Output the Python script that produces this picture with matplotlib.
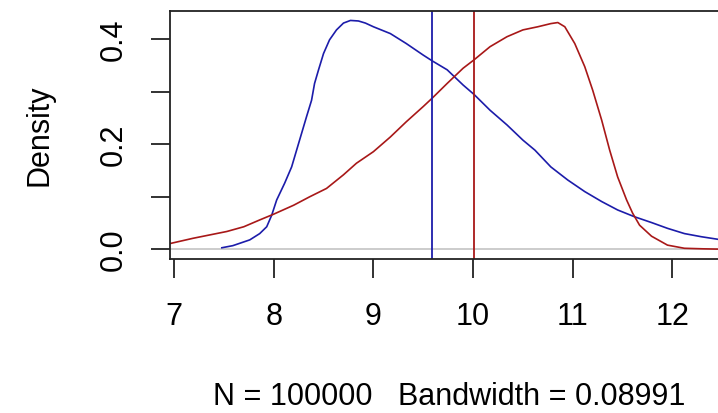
import matplotlib
matplotlib.use("Agg")
import matplotlib.pyplot as plt

plt.rcParams['font.family'] = ['Liberation Sans', 'DejaVu Sans']

# density curves
blue_x = [7.48, 7.59, 7.76, 7.86, 7.93, 7.98, 8.03, 8.11, 8.18, 8.23, 8.28, 8.33,
          8.38, 8.41, 8.45, 8.50, 8.56, 8.63, 8.70, 8.77, 8.85, 8.92, 9.00, 9.17,
          9.33, 9.50, 9.59, 9.74, 9.90, 10.01, 10.17, 10.34, 10.50, 10.62, 10.78,
          10.95, 11.12, 11.29, 11.45, 11.62, 11.79, 11.95, 12.12, 12.29, 12.46, 12.56]
blue_y = [0.003, 0.007, 0.018, 0.030, 0.043, 0.065, 0.094, 0.126, 0.157, 0.189, 0.221, 0.253,
          0.284, 0.316, 0.342, 0.373, 0.399, 0.418, 0.431, 0.436, 0.435, 0.431, 0.424, 0.411,
          0.392, 0.370, 0.359, 0.342, 0.313, 0.295, 0.265, 0.237, 0.208, 0.189, 0.157,
          0.132, 0.110, 0.091, 0.075, 0.062, 0.051, 0.040, 0.030, 0.024, 0.019, 0.016]

red_x = [6.90, 6.96, 7.19, 7.53, 7.70, 7.86, 8.00, 8.20, 8.36, 8.53, 8.70, 8.83,
         9.00, 9.17, 9.33, 9.50, 9.59, 9.74, 9.90, 10.01, 10.17, 10.34, 10.50, 10.65,
         10.78, 10.85, 10.92, 11.02, 11.12, 11.20, 11.29, 11.37, 11.45, 11.54, 11.60,
         11.67, 11.79, 11.95, 12.12, 12.30, 12.56]
red_y = [0.010, 0.011, 0.021, 0.034, 0.043, 0.056, 0.067, 0.084, 0.100, 0.116, 0.142, 0.164,
         0.186, 0.214, 0.243, 0.272, 0.288, 0.316, 0.345, 0.361, 0.386, 0.405, 0.418, 0.424,
         0.430, 0.432, 0.424, 0.392, 0.348, 0.303, 0.246, 0.189, 0.138, 0.094, 0.069,
         0.046, 0.025, 0.008, 0.002, 0.001, 0.000]

mean_blue = 9.59
mean_red = 10.01

x_ticks = [7, 8, 9, 10, 11, 12]
y_ticks = [0.0, 0.1, 0.2, 0.3, 0.4]
y_labels = ["0.0", "", "0.2", "", "0.4"]

blue = '#1c1caa'
red = '#a81818'

W, H = 718, 413
fig = plt.figure(figsize=(W / 100, H / 100), dpi=100)
ax = fig.add_axes([170 / W, (H - 258.5) / H, (729 - 170) / W, (258.5 - 11) / H])

ax.axhline(0, color='#c8c8c8', lw=1.3, zorder=1)
ax.plot(blue_x, blue_y, color=blue, lw=1.2)
ax.plot(red_x, red_y, color=red, lw=1.2)
ax.axvline(mean_blue, color=blue, lw=1.3)
ax.axvline(mean_red, color=red, lw=1.3)

ax.set_xlim(6.96, 12.567)
ax.set_ylim(-0.01746, 0.454)

ax.set_xticks(x_ticks)
ax.set_xticklabels([str(t) for t in x_ticks])
ax.set_yticks(y_ticks)
ax.set_yticklabels(y_labels, rotation=90, va='center')

for s in ax.spines.values():
    s.set_linewidth(1.3)
    s.set_color('#222222')
ax.tick_params(axis='both', length=13.5, width=1.3, color='#222222', labelsize=22)
ax.tick_params(axis='x', pad=18)
ax.tick_params(axis='y', pad=16)

ax.set_ylabel("Density", fontsize=22, labelpad=32)
ax.set_xlabel("N = 100000   Bandwidth = 0.08991", fontsize=22, labelpad=36)

fig.savefig("out.png", dpi=100)
